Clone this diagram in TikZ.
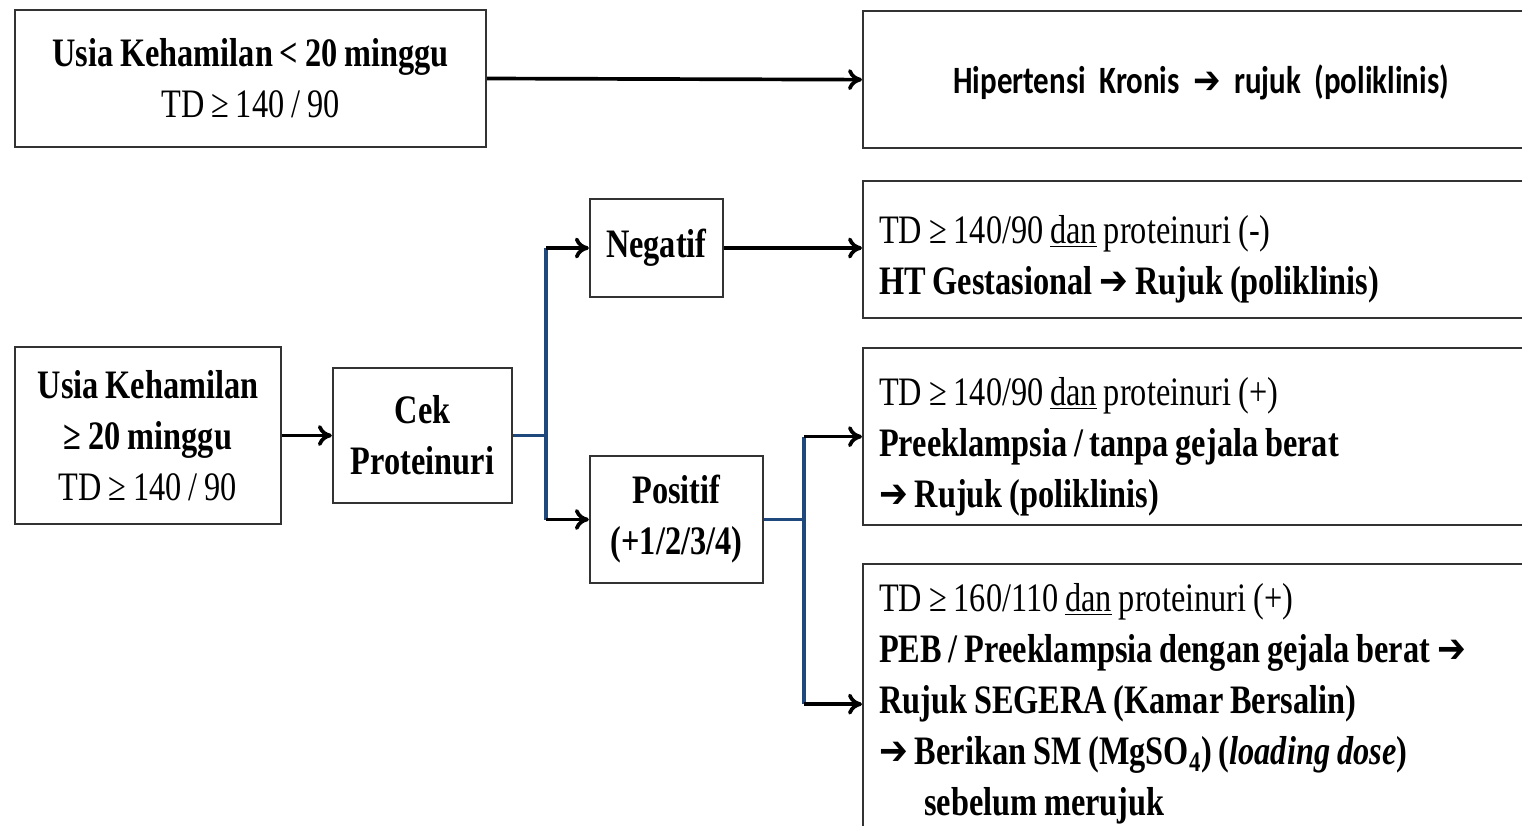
\documentclass[tikz,border=0pt]{standalone}
\usepackage{fontspec}
\usetikzlibrary{arrows.meta}
\setmainfont{Liberation Serif}[FakeStretch=0.8, WordSpace=0.85]
\newfontfamily\kalibri{Carlito}[FakeStretch=0.8, WordSpace=0.75]
\newfontfamily\panahfont{DejaVu Sans}[FakeStretch=0.85]
\newcommand{\panah}{{\panahfont ➔}}
\definecolor{garisbiru}{RGB}{31,73,125}
\tikzset{
  geser/.store in=\tinggiteks, geser=0pt,
  kotak/.style={draw=black!80, line width=1.3pt, align=center, inner sep=0pt, font=\fontsize{23}{29}\selectfont},
  hasil/.style={kotak, anchor=north west, minimum width=13.52cm, text width=12.88cm, align=flush left, inner xsep=0.32cm,
    execute at begin node={\rule{0pt}{\tinggiteks}}, geser=27pt},
  panahhitam/.style={-{To[length=2.8mm, width=4.2mm]}, line width=2.1pt},
  garis/.style={line width=2.1pt, draw=garisbiru}
}

\begin{document}
\begin{tikzpicture}
\useasboundingbox (0,0) rectangle (30.44,-16.5);
\clip (0,0) rectangle (30.44,-16.5);

\node[kotak, minimum width=9.42cm, minimum height=2.74cm] (kurang) at (5.01,-1.57) {\textbf{Usia Kehamilan < 20 minggu}\\TD ≥ 140 / 90};
\node[hasil, align=center, minimum height=2.74cm, geser=19pt] (kronis) at (17.24,-0.2) {\kalibri\bfseries\fontsize{22}{26}\selectfont Hipertensi Kronis \panah{} rujuk (poliklinis)};

\node[kotak, minimum width=5.32cm, minimum height=3.54cm] (lebih) at (2.96,-8.71) {\textbf{Usia Kehamilan}\\\textbf{≥ 20 minggu}\\TD ≥ 140 / 90};
\node[kotak, minimum width=3.58cm, minimum height=2.7cm] (cek) at (8.45,-8.71) {\textbf{Cek}\\\textbf{Proteinuri}};
\node[kotak, minimum width=2.66cm, minimum height=1.96cm] (neg) at (13.13,-4.96) {\textbf{Negatif}};
\node[kotak, minimum width=3.46cm, minimum height=2.54cm] (pos) at (13.53,-10.39) {\textbf{Positif}\\\textbf{(+1/2/3/4)}};

\node[hasil, minimum height=2.74cm] (gest) at (17.24,-3.6) {TD ≥ 140/90 \underline{dan} proteinuri (-)\\\textbf{HT Gestasional \panah{} Rujuk (poliklinis)}};
\node[hasil, minimum height=3.54cm] (pe) at (17.24,-6.94) {TD ≥ 140/90 \underline{dan} proteinuri (+)\\\textbf{Preeklampsia / tanpa gejala berat}\\\textbf{\panah{} Rujuk (poliklinis)}};
\node[hasil, minimum height=5.6cm, geser=16pt] (peb) at (17.24,-11.26) {TD ≥ 160/110 \underline{dan} proteinuri (+)\\\textbf{PEB / Preeklampsia dengan gejala berat \panah}\\\textbf{Rujuk SEGERA (Kamar Bersalin)}\\\textbf{\panah{} Berikan SM (MgSO\textsubscript{4}) (\textit{loading dose})}\\\hspace*{0.9cm}\textbf{sebelum merujuk}};

\draw[panahhitam] (kurang.east) -- (kronis.west);
\draw[panahhitam] (lebih.east) -- (cek.west);

\draw[garis] (cek.east) -- +(0.66,0) coordinate (c1);
\draw[garis] (c1 |- neg.west) -- (c1 |- pos.west);
\draw[panahhitam] (c1 |- neg.west) -- (neg.west);
\draw[panahhitam] (c1 |- pos.west) -- (pos.west);
\draw[panahhitam] (neg.east) -- (gest.west |- neg.east);

\draw[garis] (pos.east) -- +(0.8,0) coordinate (c2);
\draw[garis] (c2 |- pe.west) -- (c2 |- peb.west);
\draw[panahhitam] (c2 |- pe.west) -- (pe.west);
\draw[panahhitam] (c2 |- peb.west) -- (peb.west);
\end{tikzpicture}
\end{document}
